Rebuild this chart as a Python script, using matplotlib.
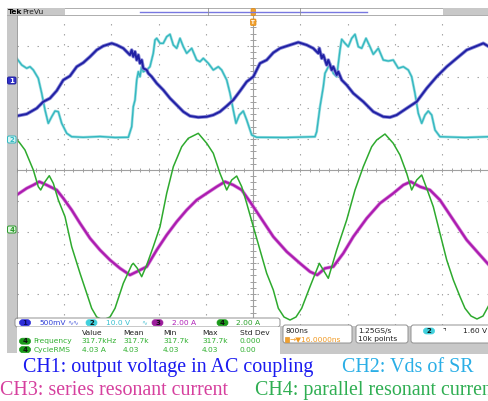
import numpy as np
import matplotlib
matplotlib.use("Agg")
import matplotlib.pyplot as plt
from matplotlib.patches import FancyBboxPatch, Rectangle

# ---------------- data (time in microseconds, 800 ns/div; amplitude in screen divisions) -------------
ch1_t = [0.000, 0.169, 0.338, 0.450, 0.563, 0.677, 0.788, 0.901, 1.015, 1.126, 1.240, 1.353, 1.465, 1.607,
         1.691, 1.803, 1.916, 1.945, 1.972, 2.001, 2.030, 2.057, 2.085, 2.114, 2.141, 2.199, 2.226, 2.283,
         2.368, 2.479, 2.593, 2.706, 2.818, 2.931, 3.071, 3.214, 3.325, 3.438, 3.552, 3.663, 3.777, 3.890,
         4.002, 4.115, 4.228, 4.340, 4.453, 4.622, 4.763, 4.905, 5.016, 5.101, 5.118, 5.159, 5.186, 5.243,
         5.270, 5.328, 5.355, 5.412, 5.439, 5.497, 5.581, 5.693, 5.862, 6.031, 6.200, 6.314, 6.427, 6.596,
         6.765, 6.934, 7.103, 7.273, 7.442, 7.611, 7.751, 7.892, 7.988]
ch1_v = [1.742, 1.806, 1.990, 2.203, 2.313, 2.558, 2.903, 3.032, 3.332, 3.461, 3.655, 3.871, 4.000, 4.087,
         4.032, 3.926, 3.710, 3.871, 3.655, 3.816, 3.548, 3.710, 3.442, 3.548, 3.281, 3.226, 3.119, 3.010,
         2.797, 2.581, 2.313, 2.097, 1.881, 1.742, 1.700, 1.719, 1.774, 1.881, 2.065, 2.258, 2.548, 2.848,
         3.010, 3.442, 3.548, 3.784, 3.926, 4.032, 4.119, 4.032, 3.926, 3.765, 3.926, 3.603, 3.710, 3.387,
         3.548, 3.226, 3.332, 3.065, 3.171, 2.903, 2.742, 2.474, 2.203, 1.881, 1.719, 1.700, 1.774, 1.990,
         2.203, 2.635, 3.010, 3.332, 3.603, 3.871, 3.977, 4.087, 3.977]

ch2_t = [0.000, 0.085, 0.169, 0.225, 0.281, 0.365, 0.423, 0.479, 0.534, 0.592, 0.648, 0.704, 0.761, 0.846,
         0.930, 1.126, 1.409, 1.663, 1.888, 1.945, 1.972, 2.001, 2.030, 2.057, 2.085, 2.114, 2.141, 2.199,
         2.254, 2.310, 2.339, 2.368, 2.424, 2.479, 2.537, 2.593, 2.649, 2.706, 2.762, 2.818, 2.875, 2.960,
         3.044, 3.100, 3.156, 3.241, 3.325, 3.410, 3.467, 3.552, 3.608, 3.663, 3.709, 3.765, 3.832, 3.890,
         3.975, 4.059, 4.538, 5.045, 5.074, 5.130, 5.186, 5.214, 5.243, 5.299, 5.355, 5.412, 5.468, 5.497,
         5.553, 5.608, 5.666, 5.722, 5.778, 5.835, 5.908, 5.975, 6.031, 6.116, 6.200, 6.285, 6.369, 6.454,
         6.539, 6.623, 6.680, 6.736, 6.792, 6.850, 6.906, 6.961, 7.019, 7.075, 7.159, 7.582, 7.988]
ch2_v = [3.603, 3.387, 3.281, 3.332, 3.226, 2.958, 2.474, 1.935, 1.506, 1.719, 1.903, 1.881, 1.506, 1.184,
         1.074, 1.055, 1.081, 1.048, 1.055, 1.397, 2.042, 2.258, 2.903, 3.171, 3.010, 3.332, 3.171, 3.226,
         3.332, 3.765, 4.194, 4.248, 4.087, 4.087, 4.300, 4.377, 4.032, 3.926, 4.248, 3.977, 3.765, 3.926,
         3.548, 3.494, 3.603, 3.442, 3.226, 3.332, 3.226, 2.903, 2.474, 1.935, 1.506, 1.774, 1.903, 1.613,
         1.129, 1.055, 1.048, 1.074, 1.235, 2.042, 2.687, 3.119, 3.226, 3.442, 3.119, 3.010, 3.871, 4.216,
         4.087, 3.977, 4.248, 4.377, 3.977, 3.926, 4.248, 3.977, 3.732, 3.926, 3.548, 3.516, 3.548, 3.281,
         3.332, 3.226, 3.010, 2.474, 1.829, 1.506, 1.774, 1.903, 1.774, 1.290, 1.074, 1.048, 1.074]

ch3_t = [0.000, 0.169, 0.281, 0.382, 0.507, 0.677, 0.788, 0.930, 1.071, 1.240, 1.409, 1.578, 1.747, 1.916,
         2.030, 2.199, 2.368, 2.537, 2.706, 2.875, 3.044, 3.214, 3.383, 3.523, 3.663, 3.806, 3.946, 4.115,
         4.340, 4.567, 4.791, 4.961, 5.084, 5.214, 5.355, 5.524, 5.693, 5.920, 6.144, 6.369, 6.539, 6.664,
         6.821, 6.990, 7.159, 7.385, 7.611, 7.836, 7.988]
ch3_v = [-0.806, -0.590, -0.484, -0.377, -0.484, -0.645, -0.913, -1.290, -1.719, -2.203, -2.581, -2.903,
         -3.171, -3.387, -3.281, -3.119, -2.581, -2.097, -1.668, -1.290, -0.968, -0.752, -0.539, -0.377,
         -0.484, -0.645, -1.023, -1.506, -2.152, -2.635, -3.010, -3.281, -3.387, -3.171, -3.119, -2.687,
         -2.152, -1.558, -1.074, -0.752, -0.484, -0.377, -0.539, -0.645, -0.968, -1.613, -2.258, -2.742,
         -3.065]

ch4_t = [0.000, 0.056, 0.140, 0.281, 0.365, 0.406, 0.479, 0.551, 0.619, 0.704, 0.817, 0.930, 1.071, 1.184,
         1.268, 1.353, 1.460, 1.578, 1.663, 1.803, 1.945, 1.972, 2.040, 2.114, 2.199, 2.310, 2.424, 2.537,
         2.649, 2.791, 2.902, 3.071, 3.214, 3.325, 3.438, 3.552, 3.636, 3.721, 3.806, 3.890, 4.002, 4.115,
         4.228, 4.340, 4.425, 4.521, 4.623, 4.724, 4.820, 4.961, 5.118, 5.270, 5.412, 5.581, 5.722, 5.862,
         6.004, 6.089, 6.229, 6.369, 6.482, 6.596, 6.680, 6.765, 6.850, 6.934, 7.046, 7.159, 7.273, 7.385,
         7.498, 7.582, 7.684, 7.785, 7.887, 7.988]
ch4_v = [0.990, 0.861, 0.645, 0.000, -0.539, -0.645, -0.377, -0.184, -0.429, -0.968, -1.506, -2.474,
         -3.332, -3.977, -4.461, -4.742, -4.839, -4.742, -4.461, -3.655, -3.065, -3.010, -3.171, -3.442,
         -3.065, -2.474, -1.829, -0.752, 0.106, 0.752, 1.023, 1.184, 0.861, 0.539, -0.106, -0.645, -0.323,
         -0.194, -0.539, -1.074, -1.829, -2.581, -3.332, -3.871, -4.461, -4.742, -4.839, -4.742, -4.461,
         -3.763, -3.010, -3.494, -2.581, -1.613, -0.645, 0.106, 0.752, 0.968, 1.161, 0.861, 0.484, -0.106,
         -0.645, -0.323, -0.161, -0.590, -1.184, -2.042, -2.903, -3.548, -4.087, -4.461, -4.710, -4.806,
         -4.710, -4.355]

ch_scale = ["500mV", "10.0 V", "2.00 A", "2.00 A"]
meas_head = ["Value", "Mean", "Min", "Max", "Std Dev"]
meas_freq = ["317.7kHz", "317.7k", "317.7k", "317.7k", "0.000"]
meas_rms = ["4.03 A", "4.03", "4.03", "4.03", "0.00"]
captions = ["CH1: output voltage in AC coupling", "CH2: Vds of SR",
            "CH3: series resonant current", "CH4: parallel resonant curren"]

# ---------------- figure ----------------
W, H = 489, 401
fig = plt.figure(figsize=(W / 100, H / 100), dpi=100)
X0, X1, Y0, Y1 = 16.7, 489.0, 15.0, 325.0
DIVPX = 47.3
ax = fig.add_axes([X0 / W, 1 - Y1 / H, (X1 - X0) / W, (Y1 - Y0) / H])
tdiv = 0.8
ax.set_xlim(0, (X1 - X0) / DIVPX * tdiv)
ax.set_ylim(-5, 5)
ax.set_xticks([]); ax.set_yticks([])
for s in ax.spines.values():
    s.set_visible(False)

gcol = "#a4a4a4"
dots = (0, (1.3, 7.7))
for i in range(1, 10):
    if i != 5:
        ax.axvline(i * tdiv, color=gcol, lw=0.8, ls=dots, zorder=1)
for j in range(-4, 5):
    if j != 0:
        ax.axhline(j, color=gcol, lw=0.8, ls=dots, zorder=1)
ax.axhline(0, color="#a0a0a0", lw=0.8, zorder=1)
ax.axvline(5 * tdiv, color="#a0a0a0", lw=0.8, zorder=1)
mx = np.arange(0, 10.01, 0.2) * tdiv
ax.vlines(mx, -0.08, 0.08, color="#a0a0a0", lw=0.7, zorder=1)
my = np.arange(-5, 5.01, 0.2)
ax.hlines(my, 5 * tdiv - 0.05, 5 * tdiv + 0.05, color="#a0a0a0", lw=0.7, zorder=1)

ax.plot(ch2_t, ch2_v, color="#9fdfe2", lw=2.0, zorder=2, solid_joinstyle="round")
ax.plot(ch2_t, ch2_v, color="#34b8c0", lw=1.0, zorder=3)
ax.plot(ch1_t, ch1_v, color="#8c8cd8", lw=2.6, zorder=3, solid_joinstyle="round")
ax.plot(ch1_t, ch1_v, color="#2020a4", lw=1.4, zorder=4)
ax.plot(ch4_t, ch4_v, color="#2eaa2e", lw=1.1, zorder=5)
ax.plot(ch3_t, ch3_v, color="#d98cdb", lw=2.6, zorder=3, solid_joinstyle="round")
ax.plot(ch3_t, ch3_v, color="#ac1cb0", lw=1.6, zorder=4)

# ---------------- overlay (scope UI) ----------------
ov = fig.add_axes([0, 0, 1, 1], zorder=10)
ov.set_xlim(0, W); ov.set_ylim(H, 0); ov.axis("off")
GRAY = "#c8c8c8"
ui = dict(family="DejaVu Sans", fontsize=5.4)

# left strip and top bar
ov.add_patch(Rectangle((7, 8), X0 - 7, 345, color=GRAY, lw=0))
ov.plot([X0, X0], [15, 318], color="#909090", lw=0.6)
ov.add_patch(Rectangle((7, 8), W - 7, 7, fc="white", ec="#a0a0a0", lw=0.6))
ov.add_patch(Rectangle((7, 8), 58, 7, color=GRAY, lw=0))
ov.add_patch(Rectangle((443, 8), 46, 7, color=GRAY, lw=0))
ov.plot([140, 367], [11.5, 11.5], color="#7878e0", lw=1.0)
ov.plot([208, 208], [8, 15], color="#909090", lw=0.6)
ov.plot([300, 300], [8, 15], color="#909090", lw=0.6)
ov.text(8, 12.2, "Tek", color="black", fontweight="bold", va="center", ha="left", **ui)
ov.text(22, 12.2, "PreVu", color="#202020", va="center", ha="left", **ui)
# trigger markers
ov.add_patch(FancyBboxPatch((251, 8.5), 4.5, 7, boxstyle="round,pad=0,rounding_size=1.5",
                            fc="#f0a030", ec="#e08a10", lw=0.5))
ov.add_patch(FancyBboxPatch((250.5, 19), 5.5, 6.5, boxstyle="round,pad=0,rounding_size=1",
                            fc="#f0a030", ec="#e08a10", lw=0.5))
ov.text(253.2, 22.4, "T", color="white", fontsize=4, ha="center", va="center", fontweight="bold")

# channel markers
def marker(y, txt, fc, ec, tc):
    ov.add_patch(FancyBboxPatch((7.5, y - 3.5), 8.5, 7, boxstyle="round,pad=0,rounding_size=1.5",
                                fc=fc, ec=ec, lw=0.7))
    ov.text(11.7, y + 0.2, txt, color=tc, fontsize=5, ha="center", va="center", fontweight="bold")

marker(80.5, "1", "#3030c8", "#2020a0", "white")
marker(139.5, "2", "#d8f4f4", "#30b8c0", "#30b8c0")
marker(229.5, "4", "#e0f4e0", "#2a9a2a", "#2a9a2a")

# bottom info area
ov.add_patch(Rectangle((280, 325.5), W - 280, 28, color=GRAY, lw=0))
ov.add_patch(FancyBboxPatch((15, 318), 265, 9, boxstyle="round,pad=0,rounding_size=2.5",
                            fc="white", ec="#909090", lw=0.7))
ov.add_patch(Rectangle((X0, 327.3), 263, 26, color="white", lw=0))

def oval(x, y, txt, fc, tc="#101010"):
    ov.add_patch(FancyBboxPatch((x, y - 3), 11, 6, boxstyle="round,pad=0,rounding_size=3",
                                fc=fc, ec=fc, lw=0.5))
    ov.text(x + 5.5, y + 0.2, txt, color=tc, fontsize=5, ha="center", va="center", fontweight="bold")

ry = 322.7
oval(19.5, ry, "1", "#2c2cd8", "#0a0a60")
ov.text(39, ry, ch_scale[0], color="#3040d8", va="center", **ui)
ov.text(67, ry, "∿∿", color="#6070e0", va="center", fontsize=5)
oval(86, ry, "2", "#40d0dc")
ov.text(106, ry, ch_scale[1], color="#38c0d0", va="center", **ui)
ov.text(141, ry, "∿", color="#60c8d8", va="center", fontsize=5)
oval(152, ry, "3", "#9c1c9c")
ov.text(171.5, ry, ch_scale[2], color="#b020b8", va="center", **ui)
oval(217, ry, "4", "#1a9a1a")
ov.text(236.5, ry, ch_scale[3], color="#28a028", va="center", **ui)

cols = [81.5, 123, 163, 202, 240]
for x, s in zip(cols, meas_head):
    ov.text(x, 332.8, s, color="#202020", va="center", **ui)
GREEN = "#30b030"
oval(19.5, 341.2, "4", "#1a9a1a")
oval(19.5, 349.6, "4", "#1a9a1a")
ov.text(33.5, 341.2, "Frequency", color=GREEN, va="center", **ui)
ov.text(33.5, 349.6, "CycleRMS", color=GREEN, va="center", **ui)
for x, s in zip(cols, meas_freq):
    ov.text(x, 341.2, s, color=GREEN, va="center", **ui)
for x, s in zip(cols, meas_rms):
    ov.text(x, 349.6, s, color=GREEN, va="center", **ui)

for (x, w) in [(283, 69), (356, 52), (411, 80)]:
    ov.add_patch(FancyBboxPatch((x, 325), w, 18, boxstyle="round,pad=0,rounding_size=2.5",
                                fc="white", ec="#909090", lw=0.7))
ov.text(285.5, 330.8, "800ns", color="#202020", va="center", **ui)
ov.add_patch(Rectangle((284.5, 336.5), 4.5, 5, fc="#f0a030", ec="#e08a10", lw=0.4))
ov.text(289.5, 339.2, "→▼16.0000ns", color="#f09820", va="center", **ui)
ov.text(358.5, 330.8, "1.25GS/s", color="#202020", va="center", **ui)
ov.text(358.5, 339.2, "10k points", color="#202020", va="center", **ui)
oval(423.5, 331, "2", "#40d0dc")
ov.text(443, 331, "⌝", color="#202020", va="center", fontsize=5.5)
ov.text(487, 331, "1.60 V", color="#202020", va="center", ha="right", **ui)

# captions (the last one is cut at the right edge, as in the original)
cap = dict(family="Liberation Serif", fontsize=14.4, va="baseline", ha="left")
ov.text(23.3, 372, captions[0], color="#1a1af0", **cap)
ov.text(341.7, 372, captions[1], color="#2aaee6", **cap)
ov.text(0, 395, captions[2], color="#d6409e", **cap)
ov.text(255, 395, captions[3], color="#2fae52", **cap)

fig.savefig("out.png", dpi=100)
